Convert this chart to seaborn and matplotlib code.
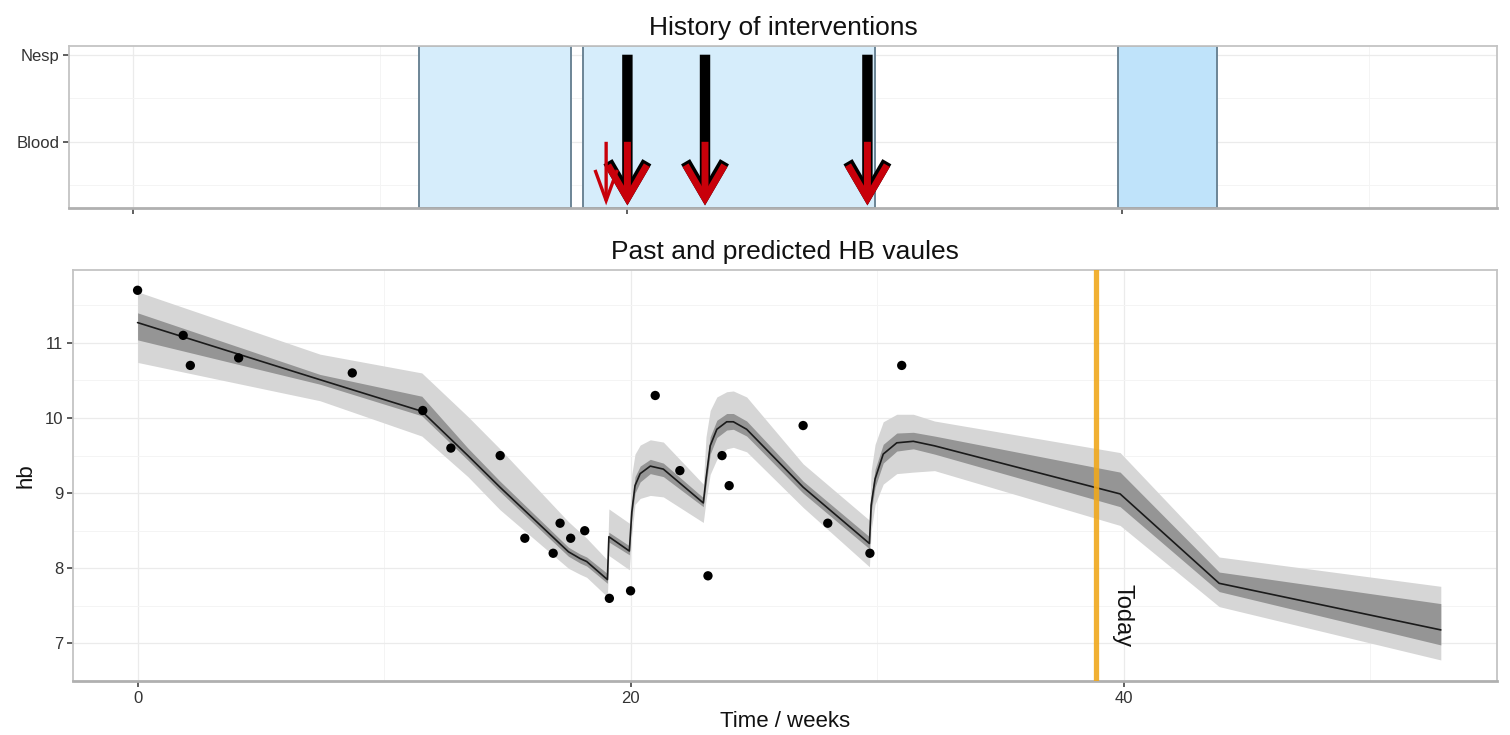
import numpy as np
import pandas as pd
import matplotlib
matplotlib.use("Agg")
import matplotlib.pyplot as plt
import seaborn as sns

# ---------------- data ----------------
obs_time = [0.0, 1.85, 2.14, 4.1, 8.71, 11.57, 12.71, 14.71, 15.71, 16.86, 17.14, 17.57,
            18.14, 19.14, 20.0, 21.0, 22.0, 23.14, 23.71, 24.0, 27.0, 28.0, 29.71, 31.0]
obs_hb = [11.7, 11.1, 10.7, 10.8, 10.6, 10.1, 9.6, 9.5, 8.4, 8.2, 8.6, 8.4,
          8.5, 7.6, 7.7, 10.3, 9.3, 7.9, 9.5, 9.1, 9.9, 8.6, 8.2, 10.7]

pred_time = [0.0, 7.4, 11.53, 13.4, 14.7, 17.48, 17.95, 18.22, 19.06, 19.12, 19.95,
             20.05, 20.18, 20.39, 20.8, 21.33, 22.95, 23.06, 23.23, 23.5, 23.9, 24.17,
             24.71, 27.0, 29.69, 29.76, 29.92, 30.25, 30.8, 31.47, 32.33, 39.86, 43.88, 52.87]
pred_mean = [11.27, 10.51, 10.09, 9.50, 9.08, 8.22, 8.13, 8.09, 7.85, 8.42, 8.23,
             8.75, 9.10, 9.26, 9.36, 9.32, 8.87, 9.19, 9.63, 9.85, 9.95, 9.95,
             9.85, 9.08, 8.33, 8.84, 9.19, 9.52, 9.67, 9.69, 9.63, 8.99, 7.80, 7.18]
pred_lo95 = [10.74, 10.23, 9.76, 9.22, 8.78, 8.00, 7.92, 7.88, 7.62, 8.17, 7.98,
             8.45, 8.85, 8.93, 8.97, 8.95, 8.61, 8.90, 9.25, 9.45, 9.59, 9.61,
             9.55, 8.81, 8.02, 8.50, 8.85, 9.12, 9.26, 9.28, 9.30, 8.57, 7.49, 6.78]
pred_hi95 = [11.68, 10.85, 10.60, 10.02, 9.59, 8.62, 8.48, 8.40, 8.11, 8.79, 8.60,
             9.25, 9.52, 9.64, 9.71, 9.68, 9.12, 9.75, 10.10, 10.28, 10.35, 10.36,
             10.28, 9.39, 8.64, 9.30, 9.65, 9.95, 10.05, 10.05, 9.96, 9.54, 8.15, 7.76]
pred_lo50 = [11.04, 10.45, 10.03, 9.44, 9.02, 8.16, 8.07, 8.03, 7.80, 8.35, 8.18,
             8.68, 9.00, 9.15, 9.26, 9.22, 8.82, 9.10, 9.52, 9.74, 9.84, 9.85,
             9.76, 9.00, 8.26, 8.75, 9.08, 9.40, 9.56, 9.59, 9.52, 8.82, 7.69, 6.98]
pred_hi50 = [11.40, 10.58, 10.29, 9.60, 9.16, 8.28, 8.19, 8.15, 7.93, 8.48, 8.30,
             8.85, 9.22, 9.36, 9.45, 9.40, 8.94, 9.30, 9.75, 9.97, 10.06, 10.06,
             9.96, 9.16, 8.42, 8.95, 9.32, 9.65, 9.80, 9.81, 9.76, 9.28, 7.95, 7.53]

stay_start = [11.57, 18.2, 39.86]
stay_end = [17.72, 30.0, 43.86]
stay_kind = ["past", "past", "planned"]

nesp_time = [20.0, 23.14, 29.71]
blood_time = [19.14, 20.0, 23.14, 29.71]
blood_units = [1, 2, 2, 2]

today = 38.88
level_labels = ["Blood", "Nesp"]
level_values = [1, 2]

# ---------------- style ----------------
sns.set_theme(style="white")
plt.rcParams["font.family"] = ["Liberation Sans", "DejaVu Sans"]

W, H = 1510, 735
fig = plt.figure(figsize=(W / 100, H / 100), dpi=100)


def rect(l, t, r, b):
    return [l / W, 1 - b / H, (r - l) / W, (b - t) / H]


ax_top = fig.add_axes(rect(69, 46, 1497, 208))
ax_bot = fig.add_axes(rect(73, 270, 1497, 681))

TICK_COLOR = "#333333"
GRID_MAJOR = "#ebebeb"
GRID_MINOR = "#f4f4f4"


def style_axes(ax):
    ax.set_facecolor("white")
    for side, sp in ax.spines.items():
        sp.set_visible(True)
        sp.set_color("#c4c4c4")
        sp.set_linewidth(1.3)
    ax.spines["bottom"].set_color("#b0b0b0")
    ax.spines["bottom"].set_linewidth(2.0)
    ax.tick_params(axis="both", which="major", length=4, width=1.2, color="#444444",
                   labelcolor=TICK_COLOR, labelsize=12, direction="out",
                   bottom=True, left=True, top=False, right=False, pad=3)
    ax.tick_params(axis="both", which="minor", length=0)
    ax.grid(True, which="major", color=GRID_MAJOR, lw=0.9, zorder=0)
    ax.grid(True, which="minor", color=GRID_MINOR, lw=0.7, zorder=0)
    ax.set_axisbelow(True)


# ---------------- top panel ----------------
style_axes(ax_top)
ax_top.set_xlim(-2.59, 55.18)
ax_top.set_ylim(0.24, 2.10)
ax_top.set_xticks([0, 20, 40])
ax_top.set_xticks([10, 30, 50], minor=True)
ax_top.set_xticklabels([])
ax_top.set_yticks(level_values)
ax_top.set_yticklabels(level_labels)
ax_top.set_yticks([0.5, 1.5], minor=True)

stay_colors = {"past": "#d6edfb", "planned": "#bfe3fa"}
for s, e, k in zip(stay_start, stay_end, stay_kind):
    ax_top.axvspan(s, e, facecolor=stay_colors[k], edgecolor="#6c8596", lw=1.4, zorder=1)

ARROW_TIP = 0.27
nesp_level = level_values[level_labels.index("Nesp")]
blood_level = level_values[level_labels.index("Blood")]

for t in nesp_time:
    ax_top.annotate("", xy=(t, ARROW_TIP), xytext=(t, nesp_level),
                    arrowprops=dict(arrowstyle="->,head_length=2.4,head_width=1.4",
                                    lw=7.5, color="black", mutation_scale=10,
                                    shrinkA=0, shrinkB=0, joinstyle="miter",
                                    capstyle="butt"),
                    annotation_clip=False, zorder=3)
for t, u in zip(blood_time, blood_units):
    if u >= 2:
        style = "->,head_length=2.4,head_width=1.4"
        lw = 5.0
    else:
        style = "->,head_length=2.2,head_width=0.8"
        lw = 2.4
    ax_top.annotate("", xy=(t, ARROW_TIP), xytext=(t, blood_level),
                    arrowprops=dict(arrowstyle=style, lw=lw, color="#c8000a",
                                    mutation_scale=10, shrinkA=0, shrinkB=0,
                                    joinstyle="miter", capstyle="butt"),
                    annotation_clip=False, zorder=4)

ax_top.set_title("History of interventions", fontsize=19, color="#111111", pad=8)

# ---------------- bottom panel ----------------
style_axes(ax_bot)
pred = pd.DataFrame({"time": pred_time, "mean": pred_mean,
                     "lo95": pred_lo95, "hi95": pred_hi95,
                     "lo50": pred_lo50, "hi50": pred_hi50})
obs = pd.DataFrame({"time": obs_time, "hb": obs_hb})

ax_bot.fill_between(pred["time"], pred["lo95"], pred["hi95"], color="#d6d6d6", lw=0, zorder=2)
ax_bot.fill_between(pred["time"], pred["lo50"], pred["hi50"], color="#959595", lw=0, zorder=3)
sns.lineplot(data=pred, x="time", y="mean", ax=ax_bot, color="#1a1a1a", lw=1.2,
             sort=False, estimator=None, zorder=4)
sns.scatterplot(data=obs, x="time", y="hb", ax=ax_bot, color="black", s=45,
                edgecolor="none", zorder=5)

ax_bot.axvline(today, color="#f0a81c", lw=3.8, alpha=0.9, zorder=6)
ax_bot.text(today + 1.06, 7.37, "Today", rotation=-90, ha="center", va="center",
            fontsize=17, color="#111111", zorder=7)

ax_bot.set_xlim(-2.62, 55.15)
ax_bot.set_ylim(6.53, 11.97)
ax_bot.set_xticks([0, 20, 40])
ax_bot.set_xticks([10, 30, 50], minor=True)
ax_bot.set_yticks([7, 8, 9, 10, 11])
ax_bot.set_yticks([6.5, 7.5, 8.5, 9.5, 10.5, 11.5], minor=True)
ax_bot.set_xlabel("Time / weeks", fontsize=16, color="#111111", labelpad=4)
ax_bot.set_ylabel("hb", fontsize=16, color="#111111", labelpad=6)
ax_bot.set_title("Past and predicted HB vaules", fontsize=19, color="#111111", pad=8)

fig.savefig("out.png", dpi=100, facecolor="white")
